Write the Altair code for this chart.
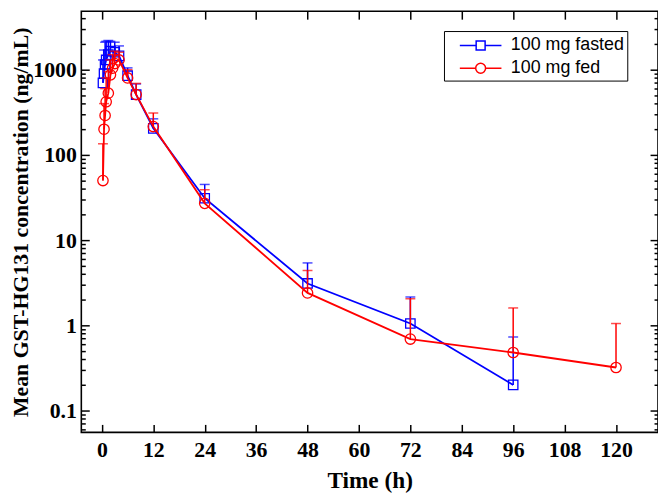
import altair as alt
import pandas as pd

series_names = ["100 mg fasted", "100 mg fed"]

fasted_t = [0.25, 0.5, 0.75, 1, 1.5, 2, 3, 4, 6, 8, 12, 24, 48, 72, 96]
fasted_mean = [700, 900, 1150, 1300, 1500, 1650, 1600, 1450, 850, 510, 205, 31, 3.1, 1.05, 0.2]
fasted_upper = [1300, 1700, 2100, 2150, 2200, 2150, 2100, 1900, 1050, 680, 265, 45, 5.4, 2.15, 0.73]

fed_t = [0.25, 0.5, 0.75, 1, 1.5, 2, 2.5, 3, 4, 6, 8, 12, 24, 48, 72, 96, 120]
fed_mean = [50, 200, 290, 420, 530, 870, 1040, 1180, 1300, 800, 510, 215, 27, 2.4, 0.69, 0.48, 0.32]
fed_upper = [135, 400, 600, 800, 950, 1300, 1500, 1650, 1600, 1000, 690, 310, 39, 4.4, 2.05, 1.6, 1.05]

x_ticks = [0, 12, 24, 36, 48, 60, 72, 84, 96, 108, 120]
y_major = [0.1, 1, 10, 100, 1000]
y_minor = [0.06, 0.07, 0.08, 0.09,
           0.2, 0.3, 0.4, 0.5, 0.6, 0.7, 0.8, 0.9,
           2, 3, 4, 5, 6, 7, 8, 9,
           20, 30, 40, 50, 60, 70, 80, 90,
           200, 300, 400, 500, 600, 700, 800, 900,
           2000, 3000, 4000]

W, H = 582, 425
BLUE = "#0000ff"
RED = "#ff0000"
SERIF = "Liberation Serif"

data = pd.concat([
    pd.DataFrame({"series": series_names[0], "t": fasted_t, "mean": fasted_mean, "upper": fasted_upper}),
    pd.DataFrame({"series": series_names[1], "t": fed_t, "mean": fed_mean, "upper": fed_upper}),
], ignore_index=True)

xs = alt.Scale(domain=[-4.8, 129.8], nice=False, zero=False)
ys = alt.Scale(type="log", domain=[0.0555, 4850], nice=False)


def series_layers(name, color, shape, size):
    base = alt.Chart(data).transform_filter(alt.datum.series == name)
    X = alt.X("t:Q", scale=xs, axis=None)
    line = base.mark_line(color=color, strokeWidth=1.8).encode(
        x=X, y=alt.Y("mean:Q", scale=ys, axis=None), order="t:Q")
    rule = base.mark_rule(color=color, strokeWidth=1.5).encode(
        x=X, y=alt.Y("mean:Q", scale=ys, axis=None), y2="upper:Q")
    cap = base.mark_tick(color=color, orient="horizontal", size=10, thickness=1.5).encode(
        x=X, y=alt.Y("upper:Q", scale=ys, axis=None))
    pts = base.mark_point(shape=shape, filled=False, size=size, color=color,
                          strokeWidth=1.3, opacity=1).encode(
        x=X, y=alt.Y("mean:Q", scale=ys, axis=None))
    return [line, rule, cap, pts]


ax_base = alt.Chart(data).mark_point(opacity=0)

label_layer = ax_base.encode(
    x=alt.X("t:Q", scale=xs, axis=alt.Axis(
        orient="bottom", values=x_ticks, ticks=False, tickSize=0, domain=False, grid=False,
        labelFont=SERIF, labelFontWeight="bold", labelFontSize=22, labelColor="black",
        labelPadding=7, title="Time (h)", titleFont=SERIF, titleFontWeight="bold",
        titleFontSize=23.5, titleColor="black", titlePadding=9)),
    y=alt.Y("mean:Q", scale=ys, axis=alt.Axis(
        orient="left", values=y_major, format="~g", ticks=False, tickSize=0, domain=False,
        grid=False, labelFont=SERIF, labelFontWeight="bold", labelFontSize=22,
        labelColor="black", labelPadding=5, labelOverlap=False,
        title="Mean GST-HG131 concentration (ng/mL)", titleFont=SERIF,
        titleFontWeight="bold", titleFontSize=22, titleColor="black", titlePadding=0)),
)


def tick_axis(orient, offset, values, size):
    return alt.Axis(orient=orient, offset=offset, values=values, labels=False, domain=False,
                    grid=False, ticks=True, tickSize=size, tickWidth=1.5, tickColor="black",
                    title=None)


ticks_lb = ax_base.encode(
    x=alt.X("t:Q", scale=xs, axis=tick_axis("top", -H, x_ticks, 8)),
    y=alt.Y("mean:Q", scale=ys, axis=tick_axis("right", -W, y_major, 8)),
)
ticks_rt = ax_base.encode(
    x=alt.X("t:Q", scale=xs, axis=tick_axis("bottom", -H, x_ticks, 8)),
    y=alt.Y("mean:Q", scale=ys, axis=tick_axis("left", -W, y_major, 8)),
)
minor_l = ax_base.encode(
    x=alt.X("t:Q", scale=xs, axis=None),
    y=alt.Y("mean:Q", scale=ys, axis=tick_axis("right", -W, y_minor, 4)),
)
minor_r = ax_base.encode(
    x=alt.X("t:Q", scale=xs, axis=None),
    y=alt.Y("mean:Q", scale=ys, axis=tick_axis("left", -W, y_minor, 4)),
)

sq_path = "M-2,0H-0.43M0.43,0H2M-0.43,-0.43H0.43V0.43H-0.43Z"
ci_path = ("M-2,0H-0.476M0.476,0H2M-0.476,0A0.476,0.476,0,1,1,0.476,0"
           "A0.476,0.476,0,1,1,-0.476,0Z")

leg = alt.Legend(title=None, orient="none", legendX=366, legendY=20, direction="vertical",
                 labelFont="Liberation Sans", labelFontSize=18, labelColor="black",
                 symbolSize=441, symbolStrokeWidth=1.5, symbolOffset=22.5, labelOffset=19,
                 rowPadding=2, padding=3, strokeColor="black", fillColor="white",
                 symbolOpacity=1)

legend_layer = alt.Chart(data).transform_filter("false").mark_point(
    filled=False, size=441, strokeWidth=1.5).encode(
    x=alt.X("t:Q", scale=xs, axis=None),
    y=alt.Y("mean:Q", scale=ys, axis=None),
    color=alt.Color("series:N", scale=alt.Scale(domain=series_names, range=[BLUE, RED]), legend=leg),
    shape=alt.Shape("series:N", scale=alt.Scale(domain=series_names, range=[sq_path, ci_path]), legend=leg),
)

layers = ([label_layer, ticks_lb, ticks_rt, minor_l, minor_r]
          + series_layers(series_names[0], BLUE, "square", 90)
          + series_layers(series_names[1], RED, "circle", 110)
          + [legend_layer])

chart = alt.layer(*layers).resolve_axis(x="independent", y="independent").properties(
    width=W, height=H,
    autosize=alt.AutoSizeParams(type="none"),
    padding={"left": 74, "top": 1, "right": 0, "bottom": 64},
).configure_view(stroke="black", strokeWidth=1.6)

chart.save("out.html", embed_options={"renderer": "svg", "actions": False})
